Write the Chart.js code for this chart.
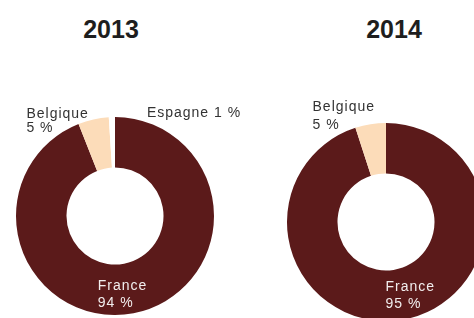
<!DOCTYPE html>
<html>
<head>
<meta charset="utf-8">
<script src="https://cdn.jsdelivr.net/npm/chart.js@4/dist/chart.umd.min.js"></script>
<style>
    html, body { margin: 0; padding: 0; background: #fff; }
    body { width: 474px; height: 318px; overflow: hidden; position: relative; }
    .title { position: absolute; top: 17px; width: 120px; text-align: center;
             font: bold 25px "Liberation Sans", Arial, sans-serif; line-height: 25px; color: #1e1e1e; }
    canvas { position: absolute; top: 0; }
</style>
</head>
<body>
<div class="title" id="title1" style="left:51px"></div>
<div class="title" id="title2" style="left:334px"></div>
<canvas id="chart1" width="240" height="318" style="left:0"></canvas>
<canvas id="chart2" width="260" height="330" style="left:240px"></canvas>
<script>
const titles = ['2013', '2014']
const categories2013 = ['France', 'Belgique', 'Espagne']
const values2013 = [94, 5, 1]
const categories2014 = ['France', 'Belgique']
const values2014 = [95, 5]

const colorFrance = '#5b1a1a'
const colorBelgique = '#fcdcb9'
const colorEspagne = '#ffffff'

document.getElementById('title1').textContent = titles[0]
document.getElementById('title2').textContent = titles[1]

// labels are anchored on each arc (mid angle), then nudged like the original
const sliceLabels = {
    id: 'sliceLabels',
    afterDatasetsDraw(chart, args, opts) {
        const ctx = chart.ctx
        const meta = chart.getDatasetMeta(0)
        const values = chart.data.datasets[0].data
        ctx.save()
        ctx.font = '14px "Liberation Sans", Arial, sans-serif'
        if ('letterSpacing' in ctx) ctx.letterSpacing = '1px'
        ctx.textAlign = 'left'
        ctx.textBaseline = 'alphabetic'
        meta.data.forEach((arc, i) => {
            const p = opts.places[i]
            const mid = (arc.startAngle + arc.endAngle) / 2
            const rad = p.inside ? (arc.innerRadius + arc.outerRadius) / 2 : arc.outerRadius
            const ax = arc.x + Math.cos(mid) * rad
            const ay = arc.y + Math.sin(mid) * rad
            ctx.fillStyle = p.inside ? '#f2eeee' : '#333333'
            const name = chart.data.labels[i]
            const val = values[i] + ' %'
            if (p.oneLine) {
                ctx.fillText(name + ' ' + val, ax + p.dx, ay + p.dy)
            } else {
                ctx.fillText(name, ax + p.dx, ay + p.dy)
                ctx.fillText(val, ax + p.dx, ay + p.dy + p.gap)
            }
        })
        ctx.restore()
    }
}

function makeDonut(id, labels, values, colors, padding, places) {
    return new Chart(document.getElementById(id), {
        type: 'doughnut',
        data: {
            labels: labels,
            datasets: [{
                data: values,
                backgroundColor: colors,
                borderWidth: 0
            }]
        },
        options: {
            responsive: false,
            animation: false,
            cutout: '49%',
            layout: { padding: padding },
            plugins: {
                legend: { display: false },
                tooltip: { enabled: false },
                sliceLabels: { places: places }
            }
        },
        plugins: [sliceLabels]
    })
}

makeDonut('chart1', categories2013, values2013, [colorFrance, colorBelgique, colorEspagne],
    { left: 16, right: 26, top: 117, bottom: 3 },
    [
        { inside: true, dx: -31, dy: 2, gap: 17 },
        { inside: false, dx: -67, dy: -1, gap: 14 },
        { inside: false, dx: 35, dy: 0, oneLine: true }
    ])

makeDonut('chart2', categories2014, values2014, [colorFrance, colorBelgique],
    { left: 47, right: 15, top: 123, bottom: 9 },
    [
        { inside: true, dx: -12, dy: -4, gap: 17 },
        { inside: false, dx: -58, dy: -13, gap: 18 }
    ])
</script>
</body>
</html>
